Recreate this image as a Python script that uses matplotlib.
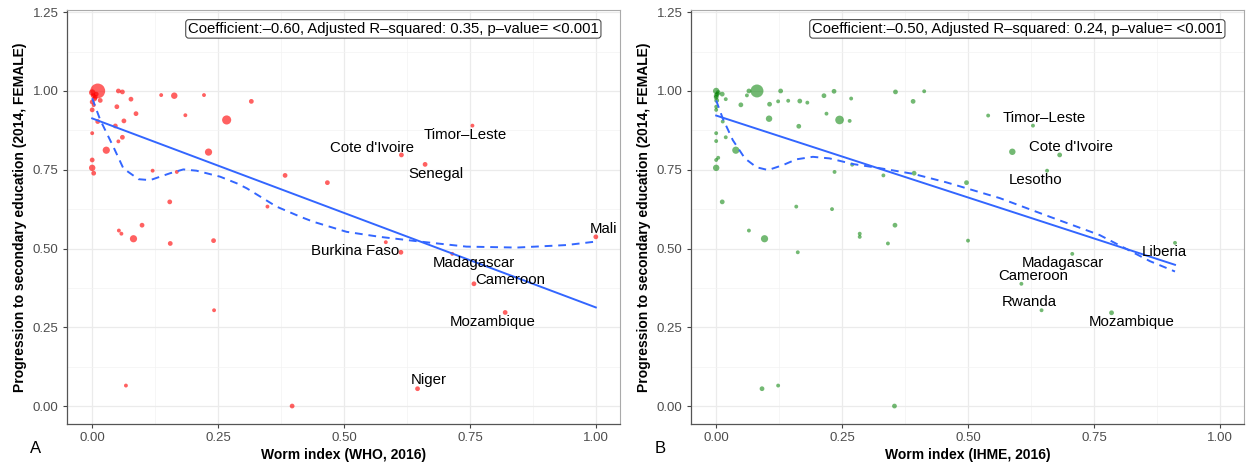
import matplotlib.pyplot as plt
from matplotlib.ticker import MultipleLocator

plt.rcParams['font.family'] = ['Liberation Sans', 'DejaVu Sans']

# -------------------------
# Data
# -------------------------

# Panel A: WHO worm index vs progression to secondary education
who_x = [0.011, 0.000, 0.002, 0.005, 0.000, 0.008, 0.003, 0.006, 0.052, 0.060,
         0.137, 0.163, 0.222, 0.316, 0.077, 0.049, 0.016, 0.000, 0.087, 0.185,
         0.267, 0.063, 0.011, 0.046, 0.000, 0.060, 0.052, 0.028, 0.231, 0.000,
         0.000, 0.003, 0.120, 0.168, 0.383, 0.467, 0.154, 0.348, 0.099, 0.053,
         0.058, 0.082, 0.155, 0.241, 0.755, 0.614, 0.661, 0.583, 0.613, 0.715,
         0.758, 0.820, 1.000, 0.242, 0.067, 0.397, 0.646]
who_y = [1.000, 0.995, 0.985, 0.975, 0.965, 0.990, 0.955, 0.980, 1.000, 0.997,
         0.987, 0.985, 0.987, 0.967, 0.974, 0.950, 0.970, 0.940, 0.928, 0.923,
         0.908, 0.905, 0.903, 0.889, 0.866, 0.853, 0.840, 0.812, 0.806, 0.781,
         0.756, 0.739, 0.747, 0.743, 0.732, 0.709, 0.648, 0.633, 0.574, 0.557,
         0.547, 0.531, 0.516, 0.525, 0.890, 0.797, 0.767, 0.520, 0.488, 0.483,
         0.388, 0.297, 0.537, 0.304, 0.065, 0.000, 0.055]
who_pop = [1350, 180, 60, 60, 60, 60, 10, 60, 60, 60,
           10, 180, 10, 60, 60, 60, 60, 60, 60, 10,
           450, 60, 60, 60, 10, 60, 10, 250, 250, 60,
           180, 60, 10, 10, 60, 60, 60, 10, 60, 10,
           10, 250, 60, 60, 10, 60, 60, 10, 60, 10,
           60, 60, 60, 10, 10, 60, 60]
who_labels = ["Cote d'Ivoire", "Timor\u2013Leste", "Senegal", "Mali", "Burkina Faso",
              "Madagascar", "Cameroon", "Mozambique", "Niger"]
who_label_x = [0.556, 0.740, 0.683, 1.016, 0.522, 0.758, 0.831, 0.796, 0.669]
who_label_y = [0.819, 0.860, 0.737, 0.562, 0.492, 0.454, 0.400, 0.267, 0.083]
who_fit = (0.913, -0.60)  # intercept, slope
who_smooth_x = [0.000, 0.016, 0.042, 0.062, 0.092, 0.115, 0.155, 0.181, 0.207,
                0.254, 0.287, 0.307, 0.366, 0.413, 0.439, 0.505, 0.571, 0.651,
                0.743, 0.843, 0.942, 1.000]
who_smooth_y = [0.977, 0.908, 0.823, 0.754, 0.720, 0.717, 0.739, 0.751, 0.747,
                0.728, 0.707, 0.691, 0.633, 0.601, 0.585, 0.553, 0.537, 0.522,
                0.506, 0.503, 0.511, 0.522]
who_stats = "Coefficient:\u20130.60, Adjusted R\u2013squared: 0.35, p\u2013value= <0.001"

# Panel B: IHME worm index
ihme_x = [0.081, 0.000, 0.002, 0.000, 0.004, 0.001, 0.000, 0.012, 0.019, 0.065,
          0.061, 0.128, 0.049, 0.106, 0.123, 0.143, 0.166, 0.181, 0.214, 0.234,
          0.268, 0.219, 0.105, 0.245, 0.265, 0.164, 0.356, 0.413, 0.391, 0.540,
          0.629, 0.588, 0.682, 0.657, 0.000, 0.000, 0.013, 0.000, 0.000, 0.019,
          0.039, 0.000, 0.004, 0.000, 0.235, 0.270, 0.332, 0.393, 0.497, 0.012,
          0.159, 0.230, 0.065, 0.096, 0.285, 0.285, 0.355, 0.341, 0.500, 0.162,
          0.707, 0.911, 0.606, 0.646, 0.785, 0.091, 0.123, 0.354]
ihme_y = [1.000, 1.000, 0.990, 0.980, 0.995, 0.970, 0.985, 0.990, 0.974, 1.000,
          0.986, 1.000, 0.956, 0.958, 0.967, 0.969, 0.968, 0.963, 0.985, 0.999,
          0.976, 0.928, 0.912, 0.908, 0.905, 0.888, 0.997, 0.999, 0.967, 0.922,
          0.890, 0.807, 0.797, 0.747, 0.940, 0.950, 0.903, 0.866, 0.841, 0.853,
          0.812, 0.781, 0.788, 0.756, 0.743, 0.766, 0.732, 0.739, 0.709, 0.648,
          0.633, 0.625, 0.557, 0.531, 0.547, 0.537, 0.574, 0.516, 0.525, 0.488,
          0.483, 0.518, 0.388, 0.304, 0.296, 0.055, 0.065, 0.000]
ihme_pop = [1000, 180, 60, 60, 60, 60, 60, 60, 10, 60,
            10, 60, 60, 60, 10, 10, 60, 10, 60, 60,
            10, 10, 180, 400, 10, 60, 60, 10, 60, 10,
            10, 180, 60, 10, 10, 10, 10, 10, 10, 10,
            250, 10, 10, 180, 10, 10, 10, 60, 60, 60,
            10, 10, 10, 250, 10, 10, 60, 10, 10, 10,
            10, 10, 10, 10, 60, 60, 10, 60]
ihme_labels = ["Timor\u2013Leste", "Cote d'Ivoire", "Lesotho", "Liberia", "Madagascar",
               "Cameroon", "Rwanda", "Mozambique"]
ihme_label_x = [0.652, 0.704, 0.635, 0.889, 0.688, 0.629, 0.621, 0.825]
ihme_label_y = [0.914, 0.822, 0.717, 0.489, 0.454, 0.413, 0.330, 0.267]
ihme_fit = (0.922, -0.52)
ihme_fit_xmax = 0.911
ihme_smooth_x = [0.000, 0.013, 0.033, 0.057, 0.080, 0.103, 0.133, 0.159, 0.192,
                 0.225, 0.272, 0.325, 0.391, 0.457, 0.563, 0.662, 0.761, 0.861, 0.911]
ihme_smooth_y = [0.970, 0.913, 0.844, 0.786, 0.758, 0.749, 0.765, 0.783, 0.791,
                 0.786, 0.768, 0.755, 0.737, 0.710, 0.660, 0.601, 0.543, 0.460, 0.427]
ihme_stats = "Coefficient:\u20130.50, Adjusted R\u2013squared: 0.24, p\u2013value= <0.001"

# -------------------------
# Helper
# -------------------------

def draw_panel(ax, xs, ys, pop, color, alpha, labels, lx, ly, fit, fit_xmax,
               sx, sy, stats, xlabel, tag):
    ax.set_xlim(-0.05, 1.048)
    ax.set_ylim(-0.057, 1.257)
    ax.xaxis.set_major_locator(MultipleLocator(0.25))
    ax.yaxis.set_major_locator(MultipleLocator(0.25))
    ax.xaxis.set_minor_locator(MultipleLocator(0.125))
    ax.yaxis.set_minor_locator(MultipleLocator(0.125))
    ax.grid(True, which='major', color='#EBEBEB', linewidth=0.9)
    ax.grid(True, which='minor', color='#F3F3F3', linewidth=0.5)
    ax.set_axisbelow(True)
    ax.tick_params(which='minor', length=0)
    ax.tick_params(which='major', length=3, width=0.8, color='#444444',
                   labelsize=9.5, labelcolor='#4D4D4D', pad=3)
    ax.xaxis.set_major_formatter(plt.FuncFormatter(lambda v, p: f"{v:.2f}"))
    ax.yaxis.set_major_formatter(plt.FuncFormatter(lambda v, p: f"{v:.2f}"))
    for side in ['left', 'bottom']:
        ax.spines[side].set_color('#555555')
        ax.spines[side].set_linewidth(0.9)
    for side in ['top', 'right']:
        ax.spines[side].set_color('#AAAAAA')
        ax.spines[side].set_linewidth(0.8)

    sizes = [7 + p * 0.08 for p in pop]
    ax.scatter(xs, ys, s=sizes, color=color, alpha=alpha, linewidths=0, zorder=3)

    b0, b1 = fit
    ax.plot([0, fit_xmax], [b0, b0 + b1 * fit_xmax], color='#3366FF', linewidth=1.4, zorder=4)
    ax.plot(sx, sy, color='#3366FF', linewidth=1.4, linestyle=(0, (4, 3)), zorder=4)

    for t, x, y in zip(labels, lx, ly):
        ax.text(x, y, t, ha='center', va='center', fontsize=10.8, color='black', zorder=5)

    ax.text(0.598, 1.197, stats, ha='center', va='center', fontsize=10.7,
            bbox=dict(boxstyle='round,pad=0.15,rounding_size=0.2', fc='white',
                      ec='#333333', lw=0.7), zorder=6)

    ax.set_xlabel(xlabel, fontsize=10, fontweight='bold', labelpad=3)
    ax.set_ylabel("Progression to secondary education (2014, FEMALE)", fontsize=10,
                  fontweight='bold', labelpad=4)
    ax.text(-0.046, -0.06, tag, transform=ax.transAxes, fontsize=12, ha='right', va='center')

# -------------------------
# Main
# -------------------------

fig = plt.figure(figsize=(12.47, 4.63), dpi=100)
ax1 = fig.add_axes([67 / 1247, 39 / 463, 553 / 1247, 414 / 463])
ax2 = fig.add_axes([691 / 1247, 39 / 463, 553 / 1247, 414 / 463])

draw_panel(ax1, who_x, who_y, who_pop, '#FF0000', 0.62, who_labels, who_label_x,
           who_label_y, who_fit, 1.0, who_smooth_x, who_smooth_y, who_stats,
           "Worm index (WHO, 2016)", "A")
draw_panel(ax2, ihme_x, ihme_y, ihme_pop, '#008000', 0.55, ihme_labels, ihme_label_x,
           ihme_label_y, ihme_fit, ihme_fit_xmax, ihme_smooth_x, ihme_smooth_y, ihme_stats,
           "Worm index (IHME, 2016)", "B")

fig.savefig("out.png", dpi=100)
